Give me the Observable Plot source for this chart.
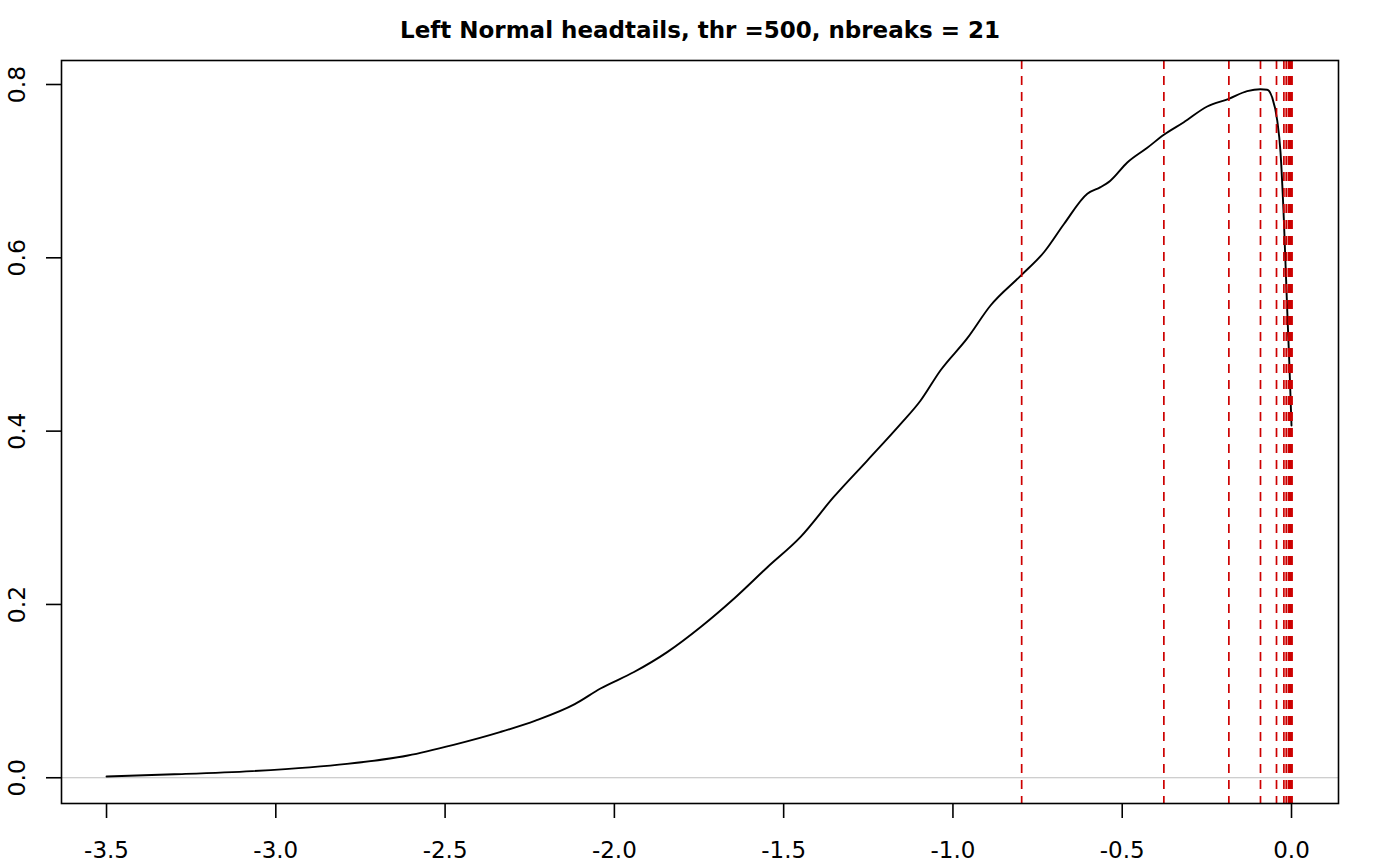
<!DOCTYPE html>
<html>
<head>
<meta charset="utf-8">
<script src="https://cdn.jsdelivr.net/npm/d3@7"></script>
<script src="https://cdn.jsdelivr.net/npm/@observablehq/plot@0.6"></script>
<style>
  html, body { margin: 0; padding: 0; background: #fff; }
  #chart svg { display: block; }
</style>
</head>
<body>
<div id="chart"></div>
<script>
const titleText = "Left Normal headtails, thr =500, nbreaks = 21";

// density curve
const densX = [-3.5, -3.3, -3.07, -2.9, -2.79, -2.61, -2.475, -2.338, -2.233, -2.117, -2.041, -1.942, -1.844, -1.745, -1.647, -1.548, -1.45, -1.352, -1.253, -1.155, -1.096, -1.037, -0.958, -0.889, -0.798, -0.73, -0.672, -0.603, -0.564, -0.535, -0.485, -0.426, -0.377, -0.318, -0.249, -0.185, -0.131, -0.092, -0.072, -0.057, -0.042, -0.0325, -0.0227, -0.0127, -0.006, 0];
const densY = [0.0015, 0.004, 0.0077, 0.012, 0.016, 0.0257, 0.038, 0.0527, 0.066, 0.085, 0.103, 0.122, 0.145, 0.174, 0.2066, 0.243, 0.278, 0.324, 0.366, 0.408, 0.435, 0.47, 0.507, 0.545, 0.58, 0.607, 0.639, 0.674, 0.6815, 0.689, 0.71, 0.727, 0.742, 0.7565, 0.7746, 0.7835, 0.7923, 0.7946, 0.794, 0.785, 0.758, 0.722, 0.645, 0.54, 0.474, 0.4065];

// head/tails break values (red dashed lines)
const breaks = [-0.797, -0.377, -0.185, -0.0916, -0.0443, -0.0225, -0.0155, -0.009, -0.006, -0.0035, -0.002, -0.0012, -0.0007, -0.0004, -0.0002, -0.0001, -0.00005, -0.00002, 0];

const xTicks = [-3.5, -3.0, -2.5, -2.0, -1.5, -1.0, -0.5, 0.0];
const yTicks = [0.0, 0.2, 0.4, 0.6, 0.8];

const curve = densX.map((x, i) => ({x, y: densY[i]}));
const fmt = d => d.toFixed(1);

const chart = Plot.plot({
  width: 1400,
  height: 865,
  marginLeft: 61,
  marginRight: 62,
  marginTop: 60,
  marginBottom: 62,
  style: {fontFamily: "DejaVu Sans", background: "#fff", color: "#000"},
  x: {domain: [-3.633, 0.1388], axis: null},
  y: {domain: [-0.0297, 0.8277], axis: null},
  marks: [
    Plot.ruleY([0], {stroke: "#bebebe", strokeWidth: 1}),
    Plot.line(curve, {x: "x", y: "y", stroke: "#000", strokeWidth: 1.9, curve: "monotone-x"}),
    Plot.ruleX(breaks, {stroke: "#CD0000", strokeWidth: 1.7, strokeDasharray: "9,7"}),
    Plot.frame({stroke: "#000", strokeWidth: 1.6}),
    Plot.axisX(xTicks, {anchor: "bottom", tickSize: 15, tickPadding: 23, tickFormat: fmt, fontSize: 23, strokeWidth: 1.6, label: null}),
    Plot.axisY(yTicks, {anchor: "left", tickSize: 15, tickFormat: () => "", strokeWidth: 1.6, label: null}),
    Plot.text(yTicks, {y: d => d, frameAnchor: "left", dx: -44.5, rotate: -90, text: fmt, fontSize: 23.5, textAnchor: "middle", lineAnchor: "middle"}),
    Plot.text([titleText], {frameAnchor: "top", dy: -30, text: d => d, fontSize: 23, fontWeight: "bold", lineAnchor: "middle"})
  ]
});
document.getElementById("chart").appendChild(chart);
</script>
</body>
</html>
